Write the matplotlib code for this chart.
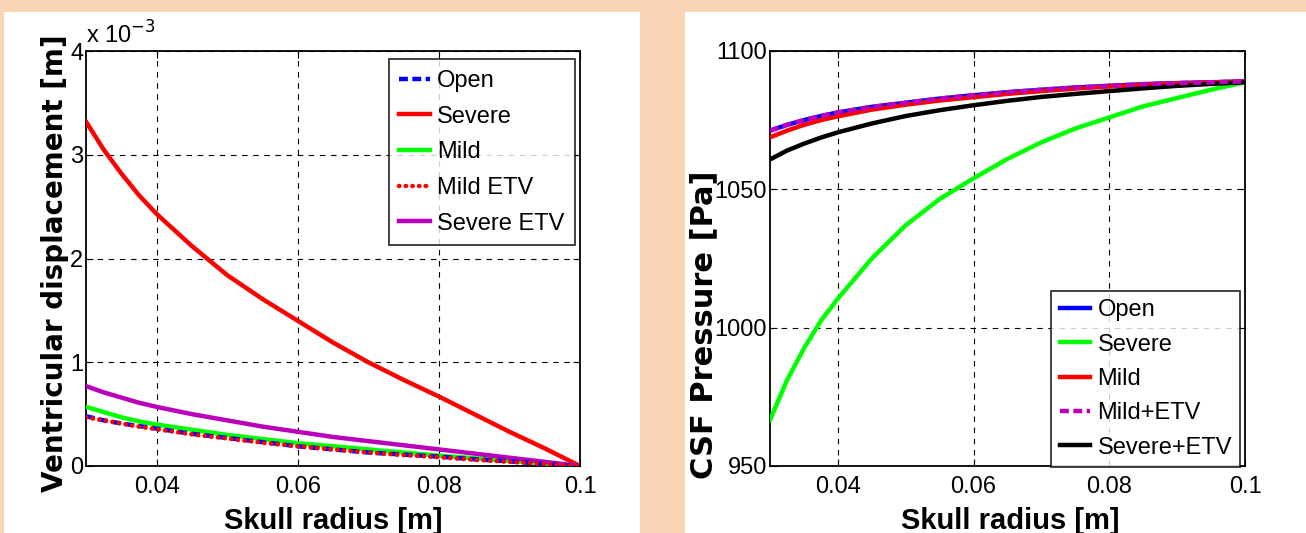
import matplotlib
matplotlib.use('Agg')
import matplotlib.pyplot as plt
from matplotlib.patches import Rectangle

# ---- data: ventricular displacement (x 1e-3 m) vs skull radius ----
radius = [0.03, 0.0325, 0.035, 0.0375, 0.04, 0.045, 0.05, 0.055, 0.06, 0.065, 0.07,
          0.075, 0.08, 0.085, 0.09, 0.095, 0.1]
disp_open = [0.48, 0.44, 0.41, 0.385, 0.36, 0.31, 0.27, 0.23, 0.19, 0.16, 0.13,
             0.11, 0.09, 0.065, 0.045, 0.02, 0.0]
disp_severe = [3.32, 3.05, 2.82, 2.61, 2.43, 2.12, 1.84, 1.61, 1.40, 1.19, 1.00,
               0.83, 0.67, 0.50, 0.33, 0.17, 0.0]
disp_mild = [0.57, 0.52, 0.47, 0.43, 0.40, 0.35, 0.30, 0.26, 0.22, 0.19, 0.16,
             0.13, 0.10, 0.075, 0.05, 0.025, 0.0]
disp_mild_etv = [0.47, 0.44, 0.41, 0.38, 0.355, 0.305, 0.265, 0.225, 0.19, 0.16, 0.13,
                 0.105, 0.085, 0.06, 0.04, 0.02, 0.0]
disp_severe_etv = [0.77, 0.71, 0.66, 0.61, 0.57, 0.50, 0.44, 0.38, 0.33, 0.28, 0.24,
                   0.20, 0.16, 0.12, 0.08, 0.04, 0.0]

# ---- data: CSF pressure (Pa) vs skull radius ----
p_open = [1071.2, 1073.3, 1075.0, 1076.5, 1077.8, 1079.8, 1081.3, 1082.8, 1084.0, 1085.1, 1086.0,
          1086.8, 1087.4, 1088.0, 1088.4, 1088.7, 1089.0]
p_severe = [966.6, 981.0, 992.5, 1002.5, 1010.5, 1025.0, 1037.0, 1046.5, 1054.0, 1061.0, 1067.0,
            1072.0, 1076.0, 1080.0, 1083.0, 1086.0, 1088.7]
p_mild = [1068.8, 1071.2, 1073.3, 1075.0, 1076.4, 1078.8, 1080.6, 1082.1, 1083.3, 1084.5, 1085.5,
          1086.4, 1087.2, 1087.8, 1088.3, 1088.6, 1089.0]
p_mild_etv = [1071.2, 1073.3, 1075.0, 1076.5, 1077.8, 1079.8, 1081.3, 1082.8, 1084.0, 1085.1, 1086.0,
              1086.8, 1087.4, 1088.0, 1088.4, 1088.7, 1089.0]
p_severe_etv = [1060.8, 1064.0, 1066.5, 1068.7, 1070.6, 1073.8, 1076.5, 1078.6, 1080.4, 1082.0, 1083.4,
                1084.5, 1085.5, 1086.5, 1087.4, 1088.1, 1088.7]

x_ticks = [0.04, 0.06, 0.08, 0.1]
x_labels = ['0.04', '0.06', '0.08', '0.1']

plt.rcParams['font.family'] = ['Liberation Sans', 'DejaVu Sans']

fig = plt.figure(figsize=(13.06, 5.33), dpi=100)
fig.patch.set_facecolor('#f9d4b4')
W, H = 1306.0, 533.0
fig.patches.append(Rectangle((4 / W, 0), 636 / W, 1 - 12 / H, transform=fig.transFigure,
                             facecolor='white', edgecolor='none', zorder=-5))
fig.patches.append(Rectangle((685 / W, 0), 621 / W, 1 - 12 / H, transform=fig.transFigure,
                             facecolor='white', edgecolor='none', zorder=-5))

ax1 = fig.add_axes([86 / W, 1 - 466 / H, 494 / W, 415 / H])
ax2 = fig.add_axes([770 / W, 1 - 466 / H, 475 / W, 415 / H])


def style_axes(ax):
    ax.set_xlim(0.03, 0.1)
    ax.set_xticks(x_ticks)
    ax.set_xticklabels(x_labels)
    ax.grid(True, color='black', linestyle=(0, (5, 5)), linewidth=0.8)
    ax.tick_params(direction='in', top=True, right=True, labelsize=17, length=5)
    ax.tick_params(axis='x', pad=7)
    ax.tick_params(axis='y', pad=2)
    for s in ax.spines.values():
        s.set_linewidth(1.3)


def style_legend(leg):
    leg.get_frame().set_linewidth(1.3)
    leg.set_zorder(10)


lw = 3.2
ax1.plot(radius, disp_severe, color='red', lw=lw, label='Severe', zorder=3)
ax1.plot(radius, disp_mild, color='#00ff00', lw=lw, label='Mild', zorder=3)
ax1.plot(radius, disp_severe_etv, color='#bb00bb', lw=lw, label='Severe ETV', zorder=3)
ax1.plot(radius, disp_open, color='blue', lw=lw, ls=(0, (2, 1)), label='Open', zorder=4)
ax1.plot(radius, disp_mild_etv, color='red', lw=3.2, ls=(0, (0.1, 1.4)),
         dash_capstyle='round', label='Mild ETV', zorder=5)
style_axes(ax1)
ax1.set_ylim(0, 4)
ax1.set_yticks([0, 1, 2, 3, 4])
h, l = ax1.get_legend_handles_labels()
order = [3, 0, 1, 4, 2]
leg1 = ax1.legend([h[i] for i in order], [l[i] for i in order], loc='upper right',
                  bbox_to_anchor=(0.99, 0.98), fontsize=17, frameon=True, fancybox=False,
                  edgecolor='black', handlelength=1.3, handletextpad=0.3,
                  labelspacing=0.58, borderpad=0.45, borderaxespad=0)
style_legend(leg1)
ax1.text(0.0, 1.005, 'x 10$^{-3}$', transform=ax1.transAxes, fontsize=17, ha='left', va='bottom')

ax2.plot(radius, p_open, color='blue', lw=lw, label='Open', zorder=3)
ax2.plot(radius, p_severe, color='#00ff00', lw=lw, label='Severe', zorder=3)
ax2.plot(radius, p_mild, color='red', lw=lw, label='Mild', zorder=3)
ax2.plot(radius, p_mild_etv, color='#bb00bb', lw=lw, ls=(0, (2, 1)), label='Mild+ETV', zorder=4)
ax2.plot(radius, p_severe_etv, color='black', lw=lw, label='Severe+ETV', zorder=3)
style_axes(ax2)
ax2.set_ylim(950, 1100)
ax2.set_yticks([950, 1000, 1050, 1100])
leg2 = ax2.legend(loc='lower right', bbox_to_anchor=(0.99, -0.002), fontsize=17, frameon=True,
                  fancybox=False, edgecolor='black', handlelength=1.3, handletextpad=0.3,
                  labelspacing=0.52, borderpad=0.35, borderaxespad=0)
style_legend(leg2)

fig.text(333 / W, 1 - 521 / H, 'Skull radius [m]', fontsize=21, fontweight='bold',
         ha='center', va='center')
fig.text(1010 / W, 1 - 521 / H, 'Skull radius [m]', fontsize=21, fontweight='bold',
         ha='center', va='center')
fig.text(55 / W, 1 - 263 / H, 'Ventricular displacement [m]', fontsize=20, fontweight='bold',
         rotation=90, ha='center', va='center', family='DejaVu Sans')
fig.text(704 / W, 1 - 325 / H, 'CSF Pressure [Pa]', fontsize=22, fontweight='bold',
         rotation=90, ha='center', va='center', family='DejaVu Sans')

fig.savefig('out.png', dpi=100, facecolor=fig.get_facecolor())
